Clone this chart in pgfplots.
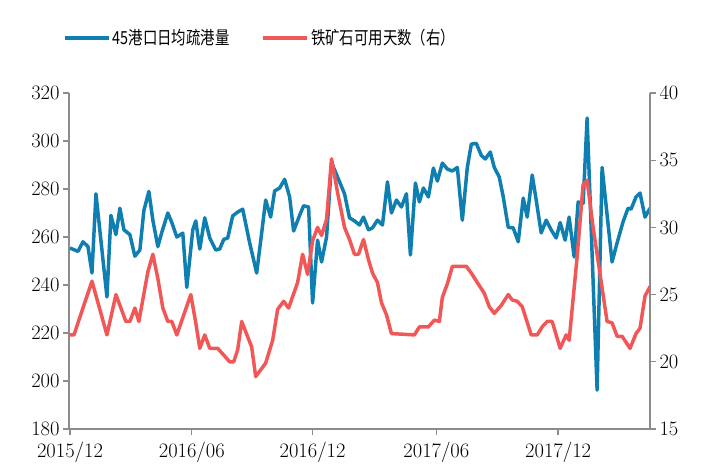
\documentclass[border=0pt]{standalone}
\usepackage{fontspec}
\setmainfont{Latin Modern Roman}
\newfontfamily\cjk[FakeStretch=0.8]{Noto Sans CJK SC}
\usepackage{pgfplots}
\usepackage{pgfplotstable}
\pgfplotsset{compat=1.18}

\definecolor{portblue}{HTML}{0F7FB2}
\definecolor{orered}{HTML}{F25757}
\definecolor{axisgray}{HTML}{8C8C8C}

% x = position along the time axis (2015/12 ... 2018/04)
\pgfplotstableread{
x y
70 255.4
78 254
83 258
88 256
92 245
96 278
107 235
111 269
116 261
120 272
124 263
130 261
135 252
140 254.6
144 271
149 279
153 267
158 256
162 262
168 270
172 266
177 260
183 261.6
187 239
193 263
196 266.7
200 255
205 268
210 259.6
216 254.6
220 255
224 259
228 259.6
233 268.8
238 270.4
243 271.6
250 257.5
257 245
262 261.7
266 275.4
271 268.3
275 279.2
280 280.4
285 284
290 276.7
294 262.5
300 269
304 273
309 272.5
313 232.5
318 258.7
322 249.6
327 260
332 291
338 285
345 278
350 268
355 266.7
360 265
364 268.3
369 263
373 263.8
378 267
383 265
388 283
392 270
397 275.4
402 272.5
407 278
411 252.5
416 282.5
420 274.6
424 280.4
429 276.7
434 288.7
438 283.3
443 290.8
448 288.3
453 287.5
458 289
463 267
468 289
472 298.7
477 299
482 294
486 292.5
491 295.4
495 289
500 285
504 276.7
509 264
514 263.8
519 258
524 276.2
528 268.3
533 285.8
537 275.4
542 261.7
547 267
552 263
557 259.6
561 266
566 258.7
570 268.3
575 251.7
579 274.6
584 274
588 309.6
598 196.2
603 289
613 249.6
618 257.5
624 266.3
629 272
632 271.6
637 276.7
641 278.3
646 268.3
651 272
}\portdata

\pgfplotstableread{
x y
70 22
74 22
92 26
107 22
116 25
126 23
130 23
135 24
139 23
148 26.7
153 28
158 26.2
163 24
168 23
172 23
177 22
191 25
196 22.9
200 21
205 22
210 21
218 21
230 20
234 20
238 20.9
242 23
252 21.1
256 18.9
266 19.9
273 21.6
278 23.9
284 24.5
289 24
298 25.9
303 28
308 26.5
313 29
318 30
322 29.4
327 30.6
332 35.1
338 32.6
345 30
350 29.1
355 28
359 28
364 29.1
369 27.6
373 26.6
378 25.9
382 24.4
387 23.5
392 22.1
415 22
420 22.6
429 22.6
435 23.1
440 23
443 24.8
448 25.8
453 27.1
467 27.1
472 26.6
478 25.9
485 25.1
490 24.1
495 23.6
502 24.2
509 25
513 24.6
518 24.5
523 24.1
532 22
538 22
543 22.6
548 23
553 23
561 21
567 22
570 21.6
578 27.8
584 33.2
588 33.5
594 30
602 26
608 23
613 22.9
618 21.9
623 21.9
631 21
637 22.1
641 22.5
646 24.9
651 25.6
}\oredata

\pgfplotsset{
  every axis/.append style={
    scale only axis,
    width=581bp, height=336bp,
    xmin=69, xmax=651,
    axis line style={draw=axisgray, line width=1.4pt},
    tick style={draw=axisgray, line width=1.4pt},
    major tick length=6bp,
    tick align=outside,
    /pgf/number format/assume math mode=true,
    ticklabel style={font=\fontsize{20.5bp}{24bp}\selectfont},
  },
}

\begin{document}
\begin{tikzpicture}
\path[use as bounding box] (-69bp,-36bp) rectangle (651bp,429bp);

\begin{axis}[
  axis x line*=bottom,
  axis y line*=left,
  ymin=180, ymax=320,
  ytick={180,200,...,320},
  xtick={70,192,313,437,559},
  xticklabels={2015/12,2016/06,2016/12,2017/06,2017/12},
  xticklabel style={yshift=-4bp},
  legend columns=2,
  legend style={
    at={(axis description cs:0.329,1.164)}, anchor=center,
    draw=none, fill=none,
    font=\cjk\fontsize{18bp}{20bp}\selectfont,
    /tikz/every even column/.append style={column sep=30bp},
  },
  legend image code/.code={\draw[#1] (0bp,0bp) -- (44bp,0bp);},
]
\addplot[portblue, line width=3.5pt, line join=round] table[x=x, y=y] {\portdata};
\addlegendentry{45港口日均疏港量}
\addlegendimage{orered, line width=3.5pt}
\addlegendentry{铁矿石可用天数（右）}
\end{axis}

\begin{axis}[
  axis x line=none,
  axis y line*=right,
  ymin=15, ymax=40,
  ytick={15,20,...,40},
]
\addplot[orered, line width=3.5pt, line join=round] table[x=x, y=y] {\oredata};
\end{axis}
\end{tikzpicture}
\end{document}
